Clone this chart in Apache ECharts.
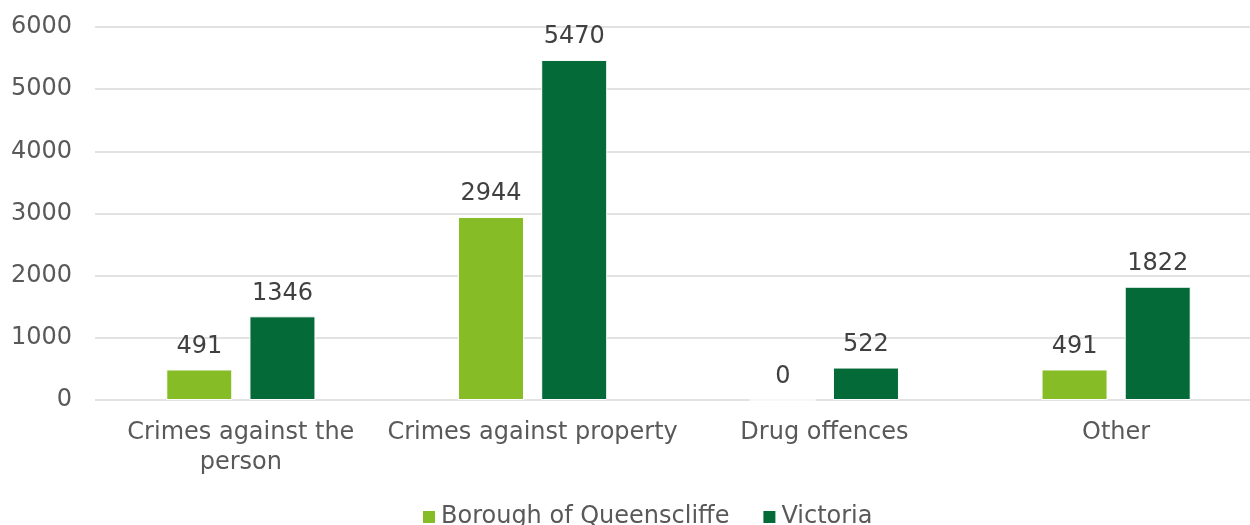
<!DOCTYPE html>
<html>
<head>
<meta charset="utf-8">
<script src="https://cdn.jsdelivr.net/npm/echarts@6/dist/echarts.min.js"></script>
<style>
  html, body { margin: 0; padding: 0; background: #fff; }
  #chart { width: 1250px; height: 525px; }
</style>
</head>
<body>
<div id="chart"></div>
<script>
var categories = ['Crimes against the\nperson', 'Crimes against property', 'Drug offences', 'Other'];
var queenscliffe = [491, 2944, 0, 491];
var victoria = [1346, 5470, 522, 1822];
var yTicks = [0, 1000, 2000, 3000, 4000, 5000, 6000];

var chart = echarts.init(document.getElementById('chart'));

var labelStyle = {
  show: true,
  position: 'top',
  distance: 11,
  fontFamily: 'DejaVu Sans',
  fontSize: 24,
  color: '#404040'
};

var option = {
  animation: false,
  textStyle: { fontFamily: 'DejaVu Sans' },
  grid: {
    left: 95,
    top: 27,
    width: 1167,
    height: 373,
    containLabel: false,
    outerBoundsMode: 'none'
  },
  legend: {
    data: ['Borough of Queenscliffe', 'Victoria'],
    top: 500,
    left: 416,
    icon: 'rect',
    itemWidth: 14,
    itemHeight: 14,
    itemGap: 32,
    textStyle: { fontFamily: 'DejaVu Sans', fontSize: 24, color: '#595959' }
  },
  xAxis: {
    type: 'category',
    data: categories,
    axisTick: { show: false },
    axisLine: { show: false },
    axisLabel: {
      interval: 0,
      margin: 18,
      fontSize: 24,
      lineHeight: 30,
      color: '#595959',
      fontFamily: 'DejaVu Sans'
    }
  },
  yAxis: {
    type: 'value',
    min: yTicks[0],
    max: yTicks[yTicks.length - 1],
    interval: 1000,
    axisLine: { show: false },
    axisTick: { show: false },
    axisLabel: {
      margin: 23,
      fontSize: 24,
      color: '#595959',
      fontFamily: 'DejaVu Sans',
      formatter: function (v) { return String(v); }
    },
    splitLine: { lineStyle: { color: '#d9d9d9', width: 1.5 } }
  },
  series: [
    {
      name: 'Borough of Queenscliffe',
      type: 'bar',
      data: queenscliffe,
      barWidth: 66,
      barGap: '26%',
      itemStyle: { color: '#86bc25', borderColor: '#ffffff', borderWidth: 1 },
      label: labelStyle
    },
    {
      name: 'Victoria',
      type: 'bar',
      data: victoria,
      barWidth: 66,
      barGap: '26%',
      itemStyle: { color: '#046a38', borderColor: '#ffffff', borderWidth: 1 },
      label: labelStyle
    }
  ]
};

chart.setOption(option);
</script>
</body>
</html>
